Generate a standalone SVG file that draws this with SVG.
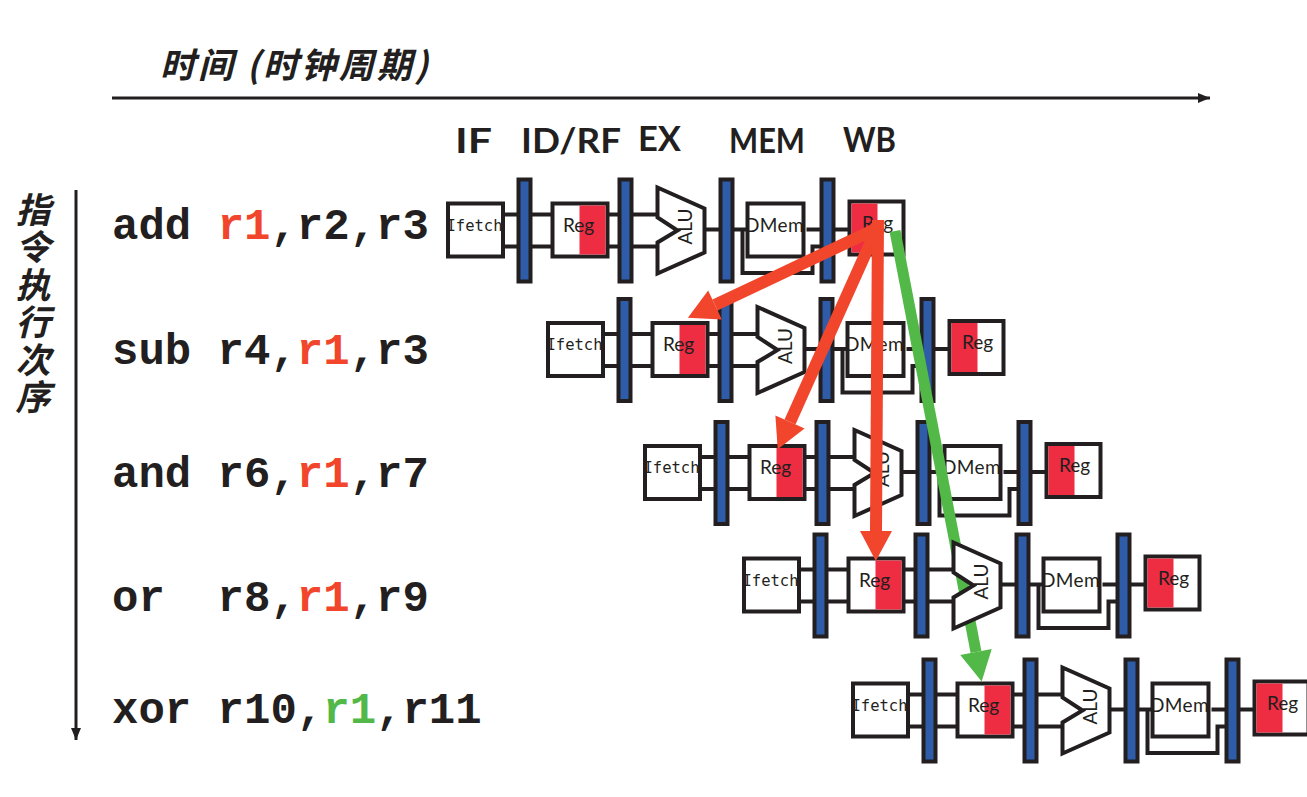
<svg xmlns="http://www.w3.org/2000/svg" width="1307" height="797" viewBox="0 0 1307 797">
<style>
.box{fill:#fff;stroke:#231f20;stroke-width:4}
.bar{fill:#2e5ca8;stroke:#231f20;stroke-width:4}
.red{fill:#ee2c42}
.wire{fill:none;stroke:#231f20;stroke-width:4}
.lbl{font-family:"Lato","Liberation Sans",sans-serif;font-size:19px;fill:#231f20;text-anchor:middle}
.lf{font-family:"DejaVu Sans Mono",monospace;font-size:15.500px}
.ld{letter-spacing:.4px}
.head{font-family:"Lato","Liberation Sans",sans-serif;font-weight:700;font-size:34px;fill:#231f20}
.code{font-family:"Liberation Mono",monospace;font-weight:700;font-size:44px;fill:#231f20;white-space:pre}
.r{fill:#f1462c}.g{fill:#52b848}
.cjk{font-family:"Noto Sans CJK SC",sans-serif;font-style:italic;font-weight:700;font-size:35px;fill:#231f20}
.vert{writing-mode:vertical-rl;letter-spacing:2.5px}
.arrow-r{stroke:#f1462c;stroke-width:12;fill:none}
.arrow-g{stroke:#52b848;stroke-width:11;fill:none}
</style>
<defs>
<marker id="mk" markerUnits="userSpaceOnUse" markerWidth="13" markerHeight="11" refX="12" refY="5" orient="auto"><path d="M0,0L12,5L0,10Z" fill="#231f20"/></marker>
<marker id="mr" markerUnits="userSpaceOnUse" markerWidth="34" markerHeight="36" refX="2" refY="17" orient="auto"><path d="M2,1L32,17L2,33Z" fill="#f1462c"/></marker>
<marker id="mg" markerUnits="userSpaceOnUse" markerWidth="34" markerHeight="36" refX="2" refY="17" orient="auto"><path d="M2,1L32,17L2,33Z" fill="#52b848"/></marker>
<path id="wires" d="M503,214H517M531,214H552M503,246H517M531,246H552M607,214H618M632,214H657M607,246H618M632,246H657M704,229H719M733,229H747M806,229H820M834,229H849M742,229V272.5H812V246H820"/>
</defs>
<text id="title" class="cjk" x="160" y="78" textLength="268" lengthAdjust="spacing">时间 (时钟周期)</text>
<text id="axis-y" class="cjk vert" x="33" y="192">指令执行次序</text>
<g id="stage-labels">
<text class="head" x="455" y="153" textLength="37" lengthAdjust="spacingAndGlyphs">IF</text>
<text class="head" x="521" y="153" textLength="100" lengthAdjust="spacingAndGlyphs">ID/RF</text>
<text class="head" x="638" y="151" textLength="43" lengthAdjust="spacingAndGlyphs">EX</text>
<text class="head" x="729" y="153" textLength="76" lengthAdjust="spacingAndGlyphs">MEM</text>
<text class="head" x="843" y="152" textLength="53" lengthAdjust="spacingAndGlyphs">WB</text>
</g>
<g id="instructions">
<text class="code" x="112" y="239">add <tspan class="r">r1</tspan>,r2,r3</text>
<text class="code" x="112" y="364">sub r4,<tspan class="r">r1</tspan>,r3</text>
<text class="code" x="112" y="487">and r6,<tspan class="r">r1</tspan>,r7</text>
<text class="code" x="112" y="611">or  r8,<tspan class="r">r1</tspan>,r9</text>
<text class="code" x="112" y="723">xor r10,<tspan class="g">r1</tspan>,r11</text>
</g>

<g id="row1" transform="translate(0.5,0.5)">
<g id="r1-ifetch"><rect class="box" x="447.5" y="203" width="55" height="53"/><text class="lbl lf" x="474" y="230">Ifetch</text></g>
<g id="r1-b1"><rect class="bar" x="518" y="179" width="12" height="102"/></g>
<g id="r1-reg"><rect class="box" x="552" y="203" width="55" height="53"/><rect class="red" x="579" y="205" width="26" height="49"/><text class="lbl" x="578" y="231">Reg</text></g>
<g id="r1-b2"><rect class="bar" x="619" y="179" width="12" height="102"/></g>
<g id="r1-alu"><path class="box" d="M657,187L704,208V252L657,273V242L677,230L657,217Z"/><text class="lbl" transform="translate(691,226) rotate(-90)">ALU</text></g>
<g id="r1-b3"><rect class="bar" x="720" y="179" width="12" height="102"/></g>
<g id="r1-dmem"><rect class="box" x="747" y="203" width="56" height="53"/><text class="lbl ld" x="774" y="231">DMem</text></g>
<g id="r1-b4"><rect class="bar" x="821" y="179" width="12" height="102"/></g>
<g id="r1-wb"><rect class="box" x="849" y="201" width="54" height="53"/><rect class="red" x="851" y="203" width="26" height="49"/><text class="lbl" x="877" y="229">Reg</text></g>
</g>

<g id="row2" transform="translate(100.5,120)">
<g id="r2-ifetch"><rect class="box" x="447.5" y="203" width="55" height="53"/><text class="lbl lf" x="474" y="230">Ifetch</text></g>
<g id="r2-b1"><rect class="bar" x="518" y="179" width="12" height="102"/></g>
<g id="r2-reg"><rect class="box" x="552" y="203" width="55" height="53"/><rect class="red" x="579" y="205" width="26" height="49"/><text class="lbl" x="578" y="231">Reg</text></g>
<g id="r2-b2"><rect class="bar" x="619" y="179" width="12" height="102"/></g>
<g id="r2-alu"><path class="box" d="M657,187L704,208V252L657,273V242L677,230L657,217Z"/><text class="lbl" transform="translate(691,226) rotate(-90)">ALU</text></g>
<g id="r2-b3"><rect class="bar" x="720" y="179" width="12" height="102"/></g>
<g id="r2-dmem"><rect class="box" x="747" y="203" width="56" height="53"/><text class="lbl ld" x="774" y="231">DMem</text></g>
<g id="r2-b4"><rect class="bar" x="821" y="179" width="12" height="102"/></g>
<g id="r2-wb"><rect class="box" x="849" y="201" width="54" height="53"/><rect class="red" x="851" y="203" width="26" height="49"/><text class="lbl" x="877" y="229">Reg</text></g>
</g>

<g id="row3" transform="translate(197.5,243)">
<g id="r3-ifetch"><rect class="box" x="447.5" y="203" width="55" height="53"/><text class="lbl lf" x="474" y="230">Ifetch</text></g>
<g id="r3-b1"><rect class="bar" x="518" y="179" width="12" height="102"/></g>
<g id="r3-reg"><rect class="box" x="552" y="203" width="55" height="53"/><rect class="red" x="579" y="205" width="26" height="49"/><text class="lbl" x="578" y="231">Reg</text></g>
<g id="r3-b2"><rect class="bar" x="619" y="179" width="12" height="102"/></g>
<g id="r3-alu"><path class="box" d="M657,187L704,208V252L657,273V242L677,230L657,217Z"/><text class="lbl" transform="translate(691,226) rotate(-90)">ALU</text></g>
<g id="r3-b3"><rect class="bar" x="720" y="179" width="12" height="102"/></g>
<g id="r3-dmem"><rect class="box" x="747" y="203" width="56" height="53"/><text class="lbl ld" x="774" y="231">DMem</text></g>
<g id="r3-b4"><rect class="bar" x="821" y="179" width="12" height="102"/></g>
<g id="r3-wb"><rect class="box" x="849" y="201" width="54" height="53"/><rect class="red" x="851" y="203" width="26" height="49"/><text class="lbl" x="877" y="229">Reg</text></g>
</g>

<g id="row4" transform="translate(296.5,355.5)">
<g id="r4-ifetch"><rect class="box" x="447.5" y="203" width="55" height="53"/><text class="lbl lf" x="474" y="230">Ifetch</text></g>
<g id="r4-b1"><rect class="bar" x="518" y="179" width="12" height="102"/></g>
<g id="r4-reg"><rect class="box" x="552" y="203" width="55" height="53"/><rect class="red" x="579" y="205" width="26" height="49"/><text class="lbl" x="578" y="231">Reg</text></g>
<g id="r4-b2"><rect class="bar" x="619" y="179" width="12" height="102"/></g>
<g id="r4-b3"><rect class="bar" x="720" y="179" width="12" height="102"/></g>
<g id="r4-dmem"><rect class="box" x="747" y="203" width="56" height="53"/><text class="lbl ld" x="774" y="231">DMem</text></g>
<g id="r4-b4"><rect class="bar" x="821" y="179" width="12" height="102"/></g>
<g id="r4-wb"><rect class="box" x="849" y="201" width="54" height="53"/><rect class="red" x="851" y="203" width="26" height="49"/><text class="lbl" x="877" y="229">Reg</text></g>
</g>

<g id="row5" transform="translate(405.5,480.5)">
<g id="r5-ifetch"><rect class="box" x="447.5" y="203" width="55" height="53"/><text class="lbl lf" x="474" y="230">Ifetch</text></g>
<g id="r5-b1"><rect class="bar" x="518" y="179" width="12" height="102"/></g>
<g id="r5-reg"><rect class="box" x="552" y="203" width="55" height="53"/><rect class="red" x="579" y="205" width="26" height="49"/><text class="lbl" x="578" y="231">Reg</text></g>
<g id="r5-b2"><rect class="bar" x="619" y="179" width="12" height="102"/></g>
<g id="r5-alu"><path class="box" d="M657,187L704,208V252L657,273V242L677,230L657,217Z"/><text class="lbl" transform="translate(691,226) rotate(-90)">ALU</text></g>
<g id="r5-b3"><rect class="bar" x="720" y="179" width="12" height="102"/></g>
<g id="r5-dmem"><rect class="box" x="747" y="203" width="56" height="53"/><text class="lbl ld" x="774" y="231">DMem</text></g>
<g id="r5-b4"><rect class="bar" x="821" y="179" width="12" height="102"/></g>
<g id="r5-wb"><rect class="box" x="849" y="201" width="54" height="53"/><rect class="red" x="851" y="203" width="26" height="49"/><text class="lbl" x="877" y="229">Reg</text></g>
</g>

<g id="connectors">
<use href="#wires" class="wire" transform="translate(0.5,0.5)"/>
<use href="#wires" class="wire" transform="translate(100.5,120)"/>
<use href="#wires" class="wire" transform="translate(197.5,243)"/>
<use href="#wires" class="wire" transform="translate(296.5,355.5)"/>
<use href="#wires" class="wire" transform="translate(405.5,480.5)"/>
<line x1="112" y1="98" x2="1210" y2="98" stroke="#231f20" stroke-width="3" marker-end="url(#mk)"/>
<line x1="76" y1="190" x2="76" y2="740" stroke="#231f20" stroke-width="3" marker-end="url(#mk)"/>
<line class="arrow-g" x1="895" y1="231" x2="976" y2="652" marker-end="url(#mg)"/>
<line class="arrow-r" x1="882" y1="226" x2="715" y2="305" marker-end="url(#mr)"/>
<line class="arrow-r" x1="878" y1="226" x2="790" y2="422" marker-end="url(#mr)"/>
<line class="arrow-r" x1="878" y1="220" x2="876" y2="531" marker-end="url(#mr)"/>
</g>

<g id="r4-alu" transform="translate(296.5,355.5)"><path class="box" d="M657,187L704,208V252L657,273V242L677,230L657,217Z"/><text class="lbl" transform="translate(691,226) rotate(-90)">ALU</text></g>
</svg>
